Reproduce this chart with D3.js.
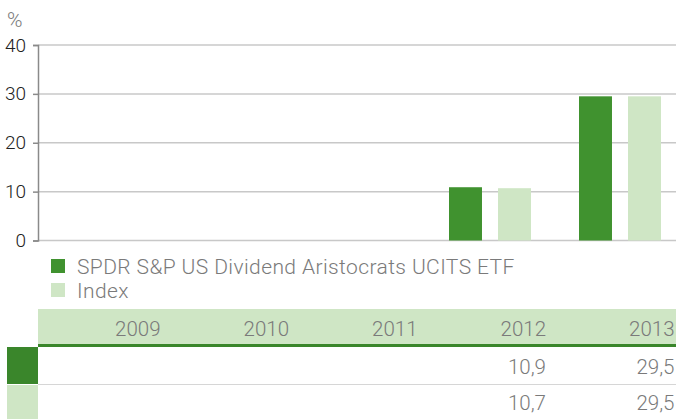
<!DOCTYPE html>
<html>
<head>
<meta charset="utf-8">
<script src="https://cdn.jsdelivr.net/npm/d3@7"></script>
<style>
  body { margin: 0; background: #fff; }
  text { font-family: Roboto, "Liberation Sans", sans-serif; }
</style>
</head>
<body>
<div id="canvas"></div>
<script>
var years = ["2009", "2010", "2011", "2012", "2013"]
var fundValues = [null, null, null, 10.9, 29.5]
var indexValues = [null, null, null, 10.7, 29.5]
var seriesNames = ["SPDR S&P US Dividend Aristocrats UCITS ETF", "Index"]
var yTicks = [0, 10, 20, 30, 40]

var width = 676
var height = 419
var darkGreen = "#40922f"
var darkGreenTable = "#3a862b"
var lightGreen = "#cfe6c5"
var grey = "#7a7a7a"

var svg = d3.select("#canvas")
    .append("svg")
    .attr("width", width)
    .attr("height", height)

var series = [fundValues, indexValues]
var colors = [darkGreen, lightGreen]

var xScale = d3.scaleBand().domain(years).range([35, 685])
var xInner = d3.scaleBand().domain([0, 1]).range([24, 106]).paddingInner(0.327)
var yScale = d3.scaleLinear().domain([0, 40]).range([240.5, 45])

// gridlines
svg.append("g")
    .selectAll("line")
    .data(yTicks)
    .enter()
    .append("line")
    .attr("x1", 38)
    .attr("x2", width)
    .attr("y1", function (d) { return yScale(d) })
    .attr("y2", function (d) { return yScale(d) })
    .attr("stroke", "#c8c8c8")
    .attr("stroke-width", 1.5)

// bars
series.forEach(function (vals, s) {
    svg.append("g")
        .selectAll("rect")
        .data(years.map(function (y, i) { return { year: y, v: vals[i] } }).filter(function (d) { return d.v != null }))
        .enter()
        .append("rect")
        .attr("x", function (d) { return xScale(d.year) + xInner(s) })
        .attr("width", xInner.bandwidth())
        .attr("y", function (d) { return yScale(d.v) })
        .attr("height", function (d) { return yScale(0) - yScale(d.v) })
        .attr("fill", colors[s])
})

// y axis
var yAxis = svg.append("g")
    .attr("transform", "translate(38,0)")
    .call(d3.axisLeft(yScale).tickValues(yTicks).tickSize(5).tickPadding(7))
yAxis.select(".domain").attr("stroke", "#8a8a8a").attr("stroke-width", 1.5)
yAxis.selectAll(".tick line").attr("stroke", "#8a8a8a").attr("stroke-width", 1.5)
yAxis.selectAll(".tick text")
    .attr("font-size", 19)
    .attr("fill", "#222")
    .style("font-family", "Roboto, sans-serif")
    .style("font-weight", 300)

svg.append("text")
    .attr("x", 7)
    .attr("y", 27)
    .attr("font-size", 21)
    .attr("font-weight", 300)
    .attr("fill", grey)
    .text("%")

// legend
var legend = svg.append("g").attr("transform", "translate(51,259)")
seriesNames.forEach(function (name, i) {
    legend.append("rect")
        .attr("x", 0)
        .attr("y", i * 24)
        .attr("width", 14)
        .attr("height", 14)
        .attr("fill", colors[i])
    legend.append("text")
        .attr("x", 26)
        .attr("y", i * 24 + 14.5)
        .attr("font-size", 21)
        .attr("font-weight", 300)
        .attr("letter-spacing", 0.4)
        .attr("fill", grey)
        .text(name)
})

// table
var tableX = d3.scaleBand().domain(years).range([38, 680.5])
var table = svg.append("g")

table.append("rect")
    .attr("x", 38).attr("y", 309)
    .attr("width", width - 38).attr("height", 35)
    .attr("fill", lightGreen)
table.append("rect")
    .attr("x", 38).attr("y", 344)
    .attr("width", width - 38).attr("height", 3)
    .attr("fill", darkGreenTable)

table.append("rect")
    .attr("x", 7).attr("y", 347)
    .attr("width", 31).attr("height", 37)
    .attr("fill", darkGreenTable)
table.append("rect")
    .attr("x", 7).attr("y", 385)
    .attr("width", 31).attr("height", 34)
    .attr("fill", lightGreen)
table.append("line")
    .attr("x1", 38).attr("x2", width)
    .attr("y1", 384.5).attr("y2", 384.5)
    .attr("stroke", "#d6d6d6")

table.selectAll(".year")
    .data(years)
    .enter()
    .append("text")
    .attr("class", "year")
    .attr("x", function (d) { return tableX(d) + tableX.bandwidth() - 6 })
    .attr("y", 336)
    .attr("text-anchor", "end")
    .attr("font-size", 20.5)
    .attr("font-weight", 300)
    .attr("fill", grey)
    .text(function (d) { return d })

var rowY = [374, 410]
series.forEach(function (vals, s) {
    table.selectAll(".val" + s)
        .data(years.map(function (y, i) { return { year: y, v: vals[i] } }).filter(function (d) { return d.v != null }))
        .enter()
        .append("text")
        .attr("class", "val" + s)
        .attr("x", function (d) { return tableX(d.year) + tableX.bandwidth() - 6 })
        .attr("y", rowY[s])
        .attr("text-anchor", "end")
        .attr("font-size", 20.5)
        .attr("font-weight", 300)
        .attr("fill", grey)
        .text(function (d) { return d.v.toFixed(1).replace(".", ",") })
})
</script>
</body>
</html>
